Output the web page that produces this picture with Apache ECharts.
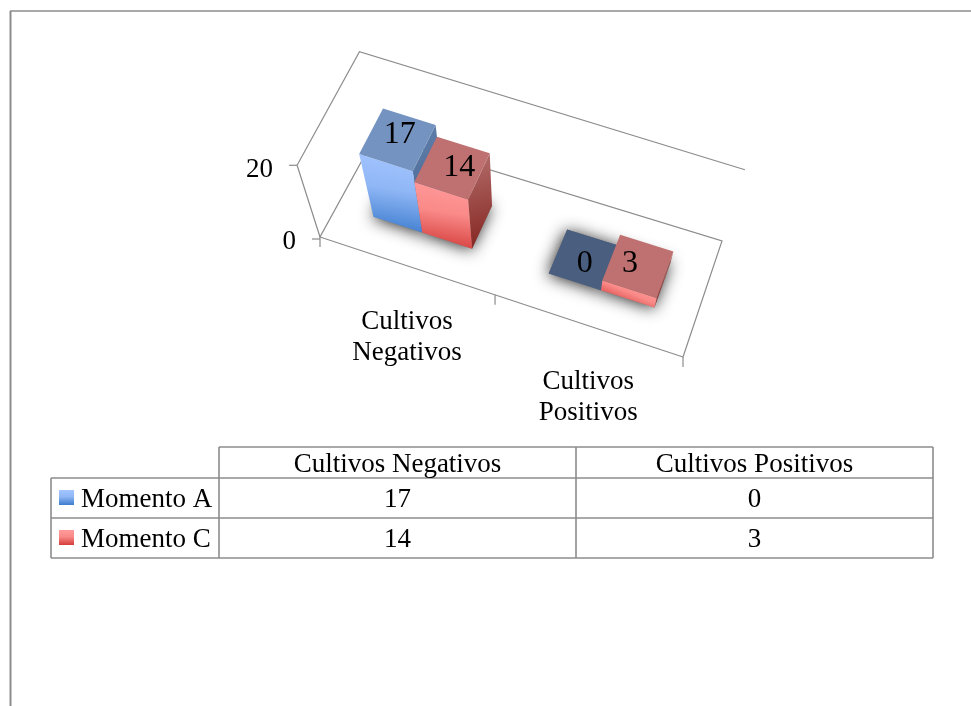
<!DOCTYPE html>
<html>
<head>
<meta charset="utf-8">
<style>
  html, body { margin: 0; padding: 0; background: #fff; }
  #main { width: 971px; height: 706px; }
</style>
<script src="https://cdn.jsdelivr.net/npm/echarts@6/dist/echarts.min.js"></script>
</head>
<body>
<div id="main"></div>
<script>
// data
const categories = ['Cultivos Negativos', 'Cultivos Positivos'];
const seriesNames = ['Momento A', 'Momento C'];
const momentoA = [17, 0];
const momentoC = [14, 3];
const valueTicks = [0, 20];

const FONT = '27px "Liberation Serif"';
const LABEL_FONT = '32px "Liberation Serif"';
const LINE = '#8c8c8c';
const GRID = 700;       // hidden plan view, the axes scale into it
const GAP_WIDTH = 1.5;  // gap between groups, in bar widths
const DEPTH = [0.3, 0.7];
// data labels do not sit quite in the middle of the bar tops
const LABEL_NUDGE = [[[2, -5], [1, 4]], [[7, 0], [-8, -2]]];

// perspective of the box
const FLOOR = [[320, 237], [683, 357], [722, 241], [376, 135]];
const NADIR = [521, 866];
const LIFT = 0.114;

// unit square -> floor quad
const H = (function (q) {
    const dx1 = q[1][0] - q[2][0], dx2 = q[3][0] - q[2][0], sx = q[0][0] - q[1][0] + q[2][0] - q[3][0];
    const dy1 = q[1][1] - q[2][1], dy2 = q[3][1] - q[2][1], sy = q[0][1] - q[1][1] + q[2][1] - q[3][1];
    const det = dx1 * dy2 - dx2 * dy1;
    const g = (sx * dy2 - dx2 * sy) / det;
    const h = (dx1 * sy - sx * dy1) / det;
    return {
        a: q[1][0] - q[0][0] + g * q[1][0], b: q[3][0] - q[0][0] + h * q[3][0], c: q[0][0],
        d: q[1][1] - q[0][1] + g * q[1][1], e: q[3][1] - q[0][1] + h * q[3][1], f: q[0][1],
        g: g, h: h
    };
})(FLOOR);

function project(u, v, w) {
    const k = H.g * u + H.h * v + 1;
    const fx = (H.a * u + H.b * v + H.c) / k;
    const fy = (H.d * u + H.e * v + H.f) / k;
    const s = 1 + LIFT * w;
    return [NADIR[0] + (fx - NADIR[0]) * s, NADIR[1] + (fy - NADIR[1]) * s];
}

function line(points) {
    return { type: 'polyline', shape: { points: points }, style: { stroke: LINE, lineWidth: 1.2, fill: null } };
}

function vGrad(c) {
    return new echarts.graphic.LinearGradient(0.6, 0, 0.4, 1, c);
}

const PALETTE = [
    {
        top: '#7493c0', topZero: '#4a5e80',
        front: [{ offset: 0, color: '#a3c5ff' }, { offset: 0.45, color: '#8fb6f5' }, { offset: 1, color: '#3c7cce' }],
        side: ['#5f7ea9', '#466493']
    },
    {
        top: '#bf7070', topZero: '#7d4a4a',
        front: [{ offset: 0, color: '#ff9a9a' }, { offset: 0.45, color: '#f98a88' }, { offset: 1, color: '#d43c3a' }],
        side: ['#b36e6c', '#84241f']
    }
];

// plan position of one bar, read through the hidden axes
function barBox(api, index, cat, val) {
    const band = api.size([1, 0])[0];
    const centre = api.coord([cat, 0])[0];
    const barW = band / (seriesNames.length + GAP_WIDTH);
    const left = centre - barW * seriesNames.length / 2 + barW * index;
    return {
        u0: left / GRID,
        u1: (left + barW) / GRID,
        w: 1 - api.coord([cat, val])[1] / GRID
    };
}

function renderFrame(params, api) {
    const w1 = 1 - api.coord([0, valueTicks[1]])[1] / GRID;
    const children = [
        line([project(1, 0, 0), project(0, 0, 0), project(0, 1, 0), project(1, 1, 0), project(1, 0, 0)]),
        line([project(0, 0, 0), project(0, 0, w1), project(0, 1, w1), project(1, 1, w1)])
    ];
    valueTicks.forEach(function (t) {
        const w = 1 - api.coord([0, t])[1] / GRID;
        const p = project(0, 0, w);
        children.push(line([[p[0] - 8, p[1] + (t === 0 ? 2 : 0)], [p[0], p[1] + (t === 0 ? 2 : 0)]]));
        children.push({
            type: 'text',
            style: { text: String(t), x: p[0] - 24, y: p[1] + 5, fill: '#000', font: FONT, align: 'right', verticalAlign: 'middle' }
        });
    });
    const band = api.size([1, 0])[0];
    for (let i = 0; i <= categories.length; i++) {
        const p = project(band * i / GRID, 0, 0);
        children.push(line([p, [p[0], p[1] + 10]]));
    }
    categories.forEach(function (name, i) {
        const p = project(api.coord([i, 0])[0] / GRID, 0, 0);
        children.push({
            type: 'text',
            style: {
                text: name.replace(' ', '\n'), x: p[0] + 1, y: p[1] + 41, fill: '#000', font: FONT,
                align: 'center', verticalAlign: 'top', lineHeight: 31
            }
        });
    });
    return { type: 'group', children: children };
}

function renderShadow(index) {
    return function (params, api) {
        const b = barBox(api, index, api.value(0), api.value(1));
        return {
            type: 'polygon',
            shape: { points: [project(b.u0, DEPTH[0], 0), project(b.u1, DEPTH[0], 0), project(b.u1, DEPTH[1], 0), project(b.u0, DEPTH[1], 0)] },
            style: { fill: '#777', shadowBlur: 16, shadowColor: 'rgba(0,0,0,0.85)', shadowOffsetX: -1, shadowOffsetY: 1 }
        };
    };
}

function renderBar(index) {
    return function (params, api) {
        const cat = api.value(0);
        const val = api.value(1);
        const b = barBox(api, index, cat, val);
        const pal = PALETTE[index];
        const children = [];
        if (val > 0) {
            children.push({
                type: 'polygon',
                shape: { points: [project(b.u1, DEPTH[0], 0), project(b.u1, DEPTH[1], 0), project(b.u1, DEPTH[1], b.w), project(b.u1, DEPTH[0], b.w)] },
                style: { fill: new echarts.graphic.LinearGradient(0, 0, 1, 1, [{ offset: 0, color: pal.side[0] }, { offset: 1, color: pal.side[1] }]) }
            });
            children.push({
                type: 'polygon',
                shape: { points: [project(b.u0, DEPTH[0], 0), project(b.u1, DEPTH[0], 0), project(b.u1, DEPTH[0], b.w), project(b.u0, DEPTH[0], b.w)] },
                style: { fill: vGrad(pal.front) }
            });
        }
        children.push({
            type: 'polygon',
            shape: { points: [project(b.u0, DEPTH[0], b.w), project(b.u1, DEPTH[0], b.w), project(b.u1, DEPTH[1], b.w), project(b.u0, DEPTH[1], b.w)] },
            style: { fill: val > 0 ? pal.top : pal.topZero }
        });
        const c = project((b.u0 + b.u1) / 2, 0.5, b.w);
        const nudge = LABEL_NUDGE[index][cat];
        children.push({
            type: 'text',
            z2: 10,
            style: { text: String(val), x: c[0] + nudge[0], y: c[1] + nudge[1], fill: '#000', font: LABEL_FONT, align: 'center', verticalAlign: 'middle' }
        });
        return { type: 'group', children: children };
    };
}

function rows(values) {
    return values.map(function (v, i) { return [i, v]; });
}

// table under the plot
const colX = [51, 219, 576, 933];
const rowY = [447, 478, 518, 558];

function tableLine(x1, y1, x2, y2) {
    return { type: 'line', shape: { x1: x1, y1: y1, x2: x2, y2: y2 }, style: { stroke: LINE, lineWidth: 1.6 } };
}

function tableText(text, x, y, align) {
    return { type: 'text', style: { text: text, x: x, y: y + 2, fill: '#000', font: FONT, align: align || 'center', verticalAlign: 'middle' } };
}

const tableElements = [
    { type: 'line', shape: { x1: 10.5, y1: 706, x2: 10.5, y2: 11 }, style: { stroke: LINE, lineWidth: 2 } },
    { type: 'line', shape: { x1: 10, y1: 11, x2: 971, y2: 11 }, style: { stroke: LINE, lineWidth: 1.6 } },
    tableLine(colX[1], rowY[0], colX[3], rowY[0]),
    tableLine(colX[0], rowY[1], colX[3], rowY[1]),
    tableLine(colX[0], rowY[2], colX[3], rowY[2]),
    tableLine(colX[0], rowY[3], colX[3], rowY[3]),
    tableLine(colX[0], rowY[1], colX[0], rowY[3]),
    tableLine(colX[1], rowY[0], colX[1], rowY[3]),
    tableLine(colX[2], rowY[0], colX[2], rowY[3]),
    tableLine(colX[3], rowY[0], colX[3], rowY[3])
];

categories.forEach(function (name, c) {
    const x = (colX[c + 1] + colX[c + 2]) / 2;
    tableElements.push(tableText(name, x, (rowY[0] + rowY[1]) / 2));
    [momentoA, momentoC].forEach(function (vals, r) {
        tableElements.push(tableText(String(vals[c]), x, (rowY[r + 1] + rowY[r + 2]) / 2));
    });
});

seriesNames.forEach(function (name, r) {
    const mid = (rowY[r + 1] + rowY[r + 2]) / 2;
    tableElements.push({
        type: 'rect',
        shape: { x: 59, y: mid - 8, width: 15, height: 15 },
        style: { fill: new echarts.graphic.LinearGradient(0, 0, 0, 1, PALETTE[r].front) }
    });
    tableElements.push(tableText(name, 81, mid, 'left'));
});

const chart = echarts.init(document.getElementById('main'), null, { renderer: 'canvas' });

const barSeries = [momentoA, momentoC];
const series = [
    { type: 'custom', name: 'frame', renderItem: renderFrame, data: [[0, 0]], silent: true, z: 1 }
];
barSeries.forEach(function (vals, i) {
    series.push({ type: 'custom', name: seriesNames[i] + ' base', renderItem: renderShadow(i), data: rows(vals), silent: true, z: 2 });
});
barSeries.forEach(function (vals, i) {
    series.push({ type: 'custom', name: seriesNames[i], renderItem: renderBar(i), data: rows(vals), silent: true, z: 3 });
});

chart.setOption({
    animation: false,
    grid: { left: 0, top: 0, width: GRID, height: GRID, containLabel: false },
    xAxis: { type: 'category', data: categories, show: false },
    yAxis: { type: 'value', min: 0, max: 20, interval: 20, show: false },
    series: series,
    graphic: { elements: tableElements }
});
</script>
</body>
</html>
